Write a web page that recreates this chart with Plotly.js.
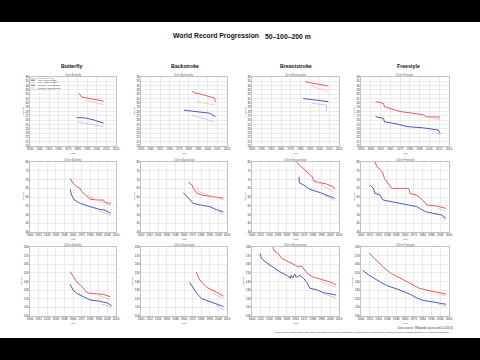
<!DOCTYPE html>
<html><head><meta charset="utf-8">
<script src="https://cdn.plot.ly/plotly-3.0.1.min.js"></script>
<style>
html,body{margin:0;padding:0;background:#000;width:480px;height:360px;overflow:hidden}
#chart{position:absolute;left:0;top:22px;width:480px;height:316px;}
</style></head><body><div id="chart"></div>
<script>
// ---------- DATA ----------
const strokes = ['Butterfly','Backstroke','Breaststroke','Freestyle'];
const distances = [50, 100, 200];
const legendLabels = ['Men, long course','Men, short course','Women, long course','Women, short course'];

// 50 m
const fly50MenYear = [1984, 1993, 2001, 2012];            const fly50MenTime = [26.6, 26.5, 26.1, 25.3];
const fly50WomenYear = [1986, 1989, 1993, 2012];          const fly50WomenTime = [32.3, 31.4, 31.2, 30.4];
const fly50MenScYear = [1985, 2012];                      const fly50MenScTime = [25.6, 24.5];
const fly50WomenScYear = [1993, 2012];                    const fly50WomenScTime = [30.6, 29.6];

const back50MenYear = [1980, 1993, 2007, 2013];           const back50MenTime = [28.3, 28.0, 27.6, 26.8];
const back50WomenYear = [1988, 1992, 1995, 2007, 2012, 2013]; const back50WomenTime = [32.8, 32.2, 32.2, 31.5, 31.1, 30.3];
const back50MenScYear = [1988, 2012];                     const back50MenScTime = [27.2, 25.6];
const back50WomenScYear = [1993, 2012];                   const back50WomenScTime = [30.3, 29.5];

const breast50MenYear = [1988, 2002, 2014];               const breast50MenTime = [31.0, 30.7, 30.3];
const breast50WomenYear = [1990, 2014];                   const breast50WomenTime = [34.9, 33.9];
const breast50MenScYear = [1997, 2012, 2012];             const breast50MenScTime = [29.9, 29.5, 28.0];
const breast50WomenScYear = [1997, 2014];                 const breast50WomenScTime = [33.9, 32.6];

const free50MenYear = [1950, 1958, 1959, 1972, 1982, 1999, 2014, 2016]; const free50MenTime = [26.8, 26.4, 25.6, 25.1, 24.5, 24.2, 23.7, 22.9];
const free50WomenYear = [1950, 1958, 1959, 1972, 1975, 1988, 1999, 2001, 2016]; const free50WomenTime = [30.3, 29.9, 29.1, 28.3, 28.0, 27.6, 27.2, 26.8, 26.7];
const free50MenScYear = [2010, 2016];                     const free50MenScTime = [23.4, 22.5];
const free50WomenScYear = [2005, 2016];                   const free50WomenScTime = [26.6, 26.1];

// 100 m
const fly100MenYear = [1956, 1958, 1962, 1970, 1984, 1997, 2004, 2013]; const fly100MenTime = [64.4, 61.1, 58.3, 56.4, 54.5, 52.9, 52.6, 50.7];
const fly100WomenYear = [1956, 1960, 1965, 1970, 1972, 1977, 1984, 1994, 2002, 2006, 2013]; const fly100WomenTime = [70.7, 68.0, 66.0, 64.9, 63.2, 61.2, 58.7, 58.3, 58.3, 56.7, 56.4];
const fly100MenScYear = [1997, 2013];                     const fly100MenScTime = [52.0, 49.5];
const fly100WomenScYear = [1980, 1995, 2012];             const fly100WomenScTime = [61.1, 58.0, 55.4];

const back100MenYear = [1959, 1964, 1968, 1973, 1983, 1996, 2006, 2015]; const back100MenTime = [62.5, 60.2, 58.3, 56.4, 55.4, 54.5, 52.6, 51.5];
const back100WomenYear = [1966, 1971, 1973, 1978, 1985, 1998, 2015]; const back100WomenTime = [68.4, 66.9, 65.0, 62.1, 61.1, 60.2, 59.3];
const back100MenScYear = [2005, 2015];                    const back100MenScTime = [53.0, 49.7];
const back100WomenScYear = [1978, 1980, 2015];            const back100WomenScTime = [66.0, 63.0, 58.3];

const breast100MenYear = [1965, 1965, 1971, 1980, 1994, 2003, 2014]; const breast100MenTime = [71.6, 68.2, 66.9, 64.4, 62.5, 61.1, 59.3];
const breast100WomenYear = [1959, 1961, 1966, 1971, 1976, 1983, 1986, 1994, 2003, 2012, 2014]; const breast100WomenTime = [82.0, 80.0, 78.1, 76.2, 73.9, 71.6, 68.8, 68.2, 67.4, 65.9, 64.4];
const breast100MenScYear = [2000, 2014];                  const breast100MenScTime = [61.0, 58.0];
const breast100WomenScYear = [1985, 2000, 2014];          const breast100WomenScTime = [70.0, 66.0, 62.5];

const free100MenYear = [1912, 1917, 1919, 1926, 1930, 1944, 1965, 1976, 1988, 1998, 2010, 2016]; const free100MenTime = [66.9, 64.9, 62.1, 61.1, 58.3, 57.3, 55.4, 54.5, 51.6, 50.7, 49.7, 47.8];
const free100WomenYear = [1912, 1919, 1922, 1929, 1932, 1942, 1953, 1965, 1967, 1976, 1983, 1990, 2003, 2016]; const free100WomenTime = [84.0, 80.0, 77.2, 74.5, 70.7, 64.9, 64.9, 64.9, 62.0, 61.1, 58.7, 55.4, 54.9, 53.5];
const free100MenScYear = [2010, 2016];                    const free100MenScTime = [48.5, 46.5];
const free100WomenScYear = [2005, 2016];                  const free100WomenScTime = [53.5, 52.0];

// 200 m
const fly200MenYear = [1956, 1960, 1965, 1974, 1984, 1997, 2008, 2014]; const fly200MenTime = [136.8, 130.1, 126.3, 122.4, 118.5, 117.2, 115.1, 112.0];
const fly200WomenYear = [1956, 1960, 1965, 1970, 1974, 1979, 1984, 2002, 2008, 2012]; const fly200WomenTime = [151.4, 145.6, 139.8, 136.0, 132.8, 127.4, 126.3, 125.1, 123.6, 122.4];
const fly200MenScYear = [2000, 2014];                     const fly200MenScTime = [114.0, 110.0];
const fly200WomenScYear = [1995, 2012];                   const fly200WomenScTime = [124.0, 119.0];

const back200MenYear = [1968, 1973, 1978, 1985, 1996, 2007, 2015]; const back200MenTime = [139.0, 132.0, 126.0, 120.0, 117.0, 114.0, 111.0];
const back200WomenYear = [1977, 1981, 1986, 1992, 2005, 2015]; const back200WomenTime = [151.0, 143.0, 138.0, 133.0, 128.0, 123.0];
const back200MenScYear = [2005, 2015];                    const back200MenScTime = [112.0, 107.0];
const back200WomenScYear = [2000, 2015];                  const back200WomenScTime = [127.0, 120.0];

const breast200MenYear = [1911, 1913, 1918, 1925, 1930, 1938, 1948, 1953, 1954, 1956, 1959, 1961, 1966, 1971, 1976, 1980, 1990, 1998, 2008, 2016];
const breast200MenTime = [172.6, 166.8, 163.0, 159.0, 155.2, 151.4, 147.2, 143.9, 147.2, 143.9, 148.5, 144.8, 147.2, 143.9, 138.5, 132.0, 130.3, 127.2, 125.6, 124.3];
const breast200WomenYear = [1927, 1929, 1931, 1936, 1941, 1950, 1959, 1964, 1968, 1971, 1976, 1983, 1991, 1998, 2008, 2016];
const breast200WomenTime = [184.0, 180.0, 175.0, 172.6, 166.8, 163.0, 158.8, 156.9, 158.2, 155.2, 149.8, 145.6, 143.8, 141.8, 139.3, 136.0];
const breast200MenScYear = [1998, 2016];                  const breast200MenScTime = [126.0, 121.0];
const breast200WomenScYear = [1995, 2016];                const breast200WomenScTime = [140.0, 133.0];

const free200MenYear = [1902, 1910, 1925, 1936, 1950, 1965, 1976, 1985, 2000, 2009, 2016]; const free200MenTime = [153.0, 148.0, 140.0, 135.0, 131.0, 126.0, 121.0, 118.0, 116.0, 114.5, 113.6];
const free200WomenYear = [1911, 1920, 1930, 1940, 1956, 1970, 1980, 1995, 2009, 2016]; const free200WomenTime = [173.0, 165.0, 157.0, 150.0, 143.0, 137.0, 132.0, 129.0, 127.0, 125.5];
const free200MenScYear = [2005, 2016];                    const free200MenScTime = [114.0, 111.0];
const free200WomenScYear = [2005, 2016];                  const free200WomenScTime = [126.0, 123.0];

const events = [
  [ [fly50MenYear,fly50MenTime,fly50MenScYear,fly50MenScTime,fly50WomenYear,fly50WomenTime,fly50WomenScYear,fly50WomenScTime],
    [back50MenYear,back50MenTime,back50MenScYear,back50MenScTime,back50WomenYear,back50WomenTime,back50WomenScYear,back50WomenScTime],
    [breast50MenYear,breast50MenTime,breast50MenScYear,breast50MenScTime,breast50WomenYear,breast50WomenTime,breast50WomenScYear,breast50WomenScTime],
    [free50MenYear,free50MenTime,free50MenScYear,free50MenScTime,free50WomenYear,free50WomenTime,free50WomenScYear,free50WomenScTime] ],
  [ [fly100MenYear,fly100MenTime,fly100MenScYear,fly100MenScTime,fly100WomenYear,fly100WomenTime,fly100WomenScYear,fly100WomenScTime],
    [back100MenYear,back100MenTime,back100MenScYear,back100MenScTime,back100WomenYear,back100WomenTime,back100WomenScYear,back100WomenScTime],
    [breast100MenYear,breast100MenTime,breast100MenScYear,breast100MenScTime,breast100WomenYear,breast100WomenTime,breast100WomenScYear,breast100WomenScTime],
    [free100MenYear,free100MenTime,free100MenScYear,free100MenScTime,free100WomenYear,free100WomenTime,free100WomenScYear,free100WomenScTime] ],
  [ [fly200MenYear,fly200MenTime,fly200MenScYear,fly200MenScTime,fly200WomenYear,fly200WomenTime,fly200WomenScYear,fly200WomenScTime],
    [back200MenYear,back200MenTime,back200MenScYear,back200MenScTime,back200WomenYear,back200WomenTime,back200WomenScYear,back200WomenScTime],
    [breast200MenYear,breast200MenTime,breast200MenScYear,breast200MenScTime,breast200WomenYear,breast200WomenTime,breast200WomenScYear,breast200WomenScTime],
    [free200MenYear,free200MenTime,free200MenScYear,free200MenScTime,free200WomenYear,free200WomenTime,free200WomenScYear,free200WomenScTime] ]
];

// ---------- LAYOUT ----------
const W = 480, H = 316, OFF = 22;
const px = p => p / W;
const py = p => 1 - (p - OFF) / H;
const colsPx = [[30,116],[141,227],[252,339],[361,449]];
const rowsPx = [[77,146],[162,232],[247,316]];
const xRanges = [[1935,2025],[1900,2020],[1900,2020]];
const xDticks = [10,12,12];
const yRanges = [[20,36],[40,80],[100,180]];
const yDticks = [1,5,10];
const colors = ['#3c44b8','#a9b4ee','#e24a4a','#f4b0b0'];
const dashes = ['solid','solid','solid','solid'];
const widths = [0.9,0.7,0.9,0.7];

const traces = [];
const layout = {
  width: W, height: H, margin: {l:0,r:0,t:0,b:0},
  paper_bgcolor: '#ffffff', plot_bgcolor: '#ffffff',
  showlegend: false,
  font: {family: 'Liberation Sans, Arial, sans-serif', color: '#222'},
  annotations: [], shapes: []
};

for (let r = 0; r < 3; r++) {
  for (let c = 0; c < 4; c++) {
    const k = r * 4 + c + 1;
    const xa = 'x' + (k === 1 ? '' : k), ya = 'y' + (k === 1 ? '' : k);
    const d = events[r][c];
    for (let s = 0; s < 4; s++) {
      traces.push({
        x: d[s*2], y: d[s*2+1], xaxis: xa, yaxis: ya, type: 'scatter', mode: 'lines',
        name: legendLabels[s],
        line: {color: colors[s], width: widths[s], dash: dashes[s]}, hoverinfo: 'skip'
      });
    }
    const axCommon = {
      showline: true, mirror: true, linecolor: '#9a9a9a', linewidth: 0.6,
      showgrid: true, gridcolor: '#d9d9d9', gridwidth: 0.5, zeroline: false,
      ticks: '', tickangle: 0, tickfont: {size: 3, color: '#333'}, fixedrange: true
    };
    layout['xaxis' + (k === 1 ? '' : k)] = Object.assign({}, axCommon, {
      domain: [px(colsPx[c][0]), px(colsPx[c][1])], anchor: ya,
      range: xRanges[r], tick0: xRanges[r][0], dtick: xDticks[r],
      title: {text: 'Year', font: {size: 2.5, color: '#444'}, standoff: 1}
    });
    layout['yaxis' + (k === 1 ? '' : k)] = Object.assign({}, axCommon, {
      domain: [py(rowsPx[r][1]), py(rowsPx[r][0])], anchor: xa,
      range: yRanges[r], tick0: yRanges[r][0], dtick: yDticks[r],
      title: {text: 'Time [s]', font: {size: 2.5, color: '#444'}, standoff: 1}
    });
    layout.annotations.push({
      xref: 'paper', yref: 'paper', x: px((colsPx[c][0] + colsPx[c][1]) / 2), y: py(rowsPx[r][0] - 2.3),
      text: distances[r] + ' m ' + strokes[c], showarrow: false,
      font: {size: 2.6, color: '#666'}, xanchor: 'center', yanchor: 'middle'
    });
  }
}

// column titles
const colTitleX = [71.7, 185, 296, 408];
strokes.forEach((s, i) => layout.annotations.push({
  xref: 'paper', yref: 'paper', x: px(colTitleX[i]), y: py(66.3), text: '<b>' + s + '</b>',
  showarrow: false, font: {size: 5.2, color: '#111'}, xanchor: 'center', yanchor: 'middle'
}));

// main title
layout.annotations.push({xref:'paper', yref:'paper', x: px(215.8), y: py(36), text: '<b>World Record Progression</b>',
  showarrow:false, font:{size:6.8, color:'#111'}, xanchor:'center', yanchor:'middle'});
layout.annotations.push({xref:'paper', yref:'paper', x: px(287.5), y: py(36), text: '<b>' + distances.join('–') + ' m</b>',
  showarrow:false, font:{size:6.8, color:'#111'}, xanchor:'center', yanchor:'middle'});

// footnotes
layout.annotations.push({xref:'paper', yref:'paper', x: px(455), y: py(327.5), text: 'Data source: Wikipedia (accessed 4.4.2014)',
  showarrow:false, font:{size:2.8, color:'#333'}, xanchor:'right', yanchor:'middle'});
layout.annotations.push({xref:'paper', yref:'paper', x: px(452), y: py(332.8),
  text: 'Short course values lighter; time scale and limits set for better comparison. Graphic data extracted from Wikipedia tables excluding glitches (e.g. 1950s breaststroke).',
  showarrow:false, font:{size:2.4, color:'#333'}, xanchor:'right', yanchor:'middle'});

// legend (first subplot)
const lgX0 = 30, lgY0 = 78.5, lgW = 24, lgRow = 2.6;
layout.shapes.push({type:'rect', xref:'paper', yref:'paper', x0: px(lgX0), x1: px(lgX0 + lgW),
  y0: py(lgY0), y1: py(lgY0 + lgRow * 4 + 0.8), line:{color:'#aaaaaa', width:0.5}, fillcolor:'#ffffff', layer:'above'});
legendLabels.forEach((lab, i) => {
  const yy = lgY0 + 1.7 + i * lgRow;
  layout.shapes.push({type:'line', xref:'paper', yref:'paper', x0: px(lgX0 + 1), x1: px(lgX0 + 5),
    y0: py(yy), y1: py(yy), line:{color: colors[i], width: widths[i], dash: dashes[i]}, layer:'above'});
  layout.annotations.push({xref:'paper', yref:'paper', x: px(lgX0 + 6), y: py(yy), text: lab,
    showarrow:false, font:{size:2.4, color:'#333'}, xanchor:'left', yanchor:'middle'});
});

Plotly.newPlot('chart', traces, layout, {staticPlot: true, displayModeBar: false});
</script></body></html>
